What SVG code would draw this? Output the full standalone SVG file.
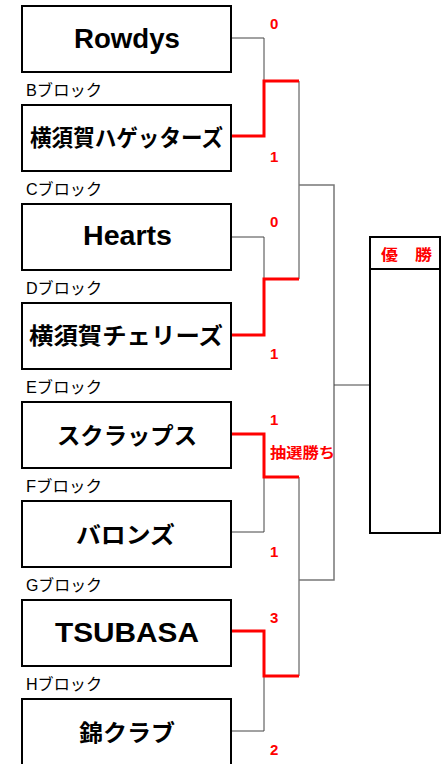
<svg xmlns="http://www.w3.org/2000/svg" width="447" height="764" viewBox="0 0 447 764">
<style>
.box{fill:#fff;stroke:#000;stroke-width:2}
.name{font-family:"Liberation Sans","Noto Sans CJK JP",sans-serif;font-weight:bold;text-anchor:middle;fill:#000}
.en{font-size:27px}
.jp{font-size:23px}
.blk{font-family:"Liberation Sans","Noto Sans CJK JP",sans-serif;font-size:16px;fill:#000}
.sc{font-family:"Liberation Sans","Noto Sans CJK JP",sans-serif;font-size:15px;font-weight:bold;fill:#f00}
.g{fill:none;stroke:#444;stroke-width:1}
.g2{fill:none;stroke:#777;stroke-width:1.5}
.r{fill:none;stroke:#f00;stroke-width:3}
</style>
<rect width="447" height="764" fill="#fff"/>
<g id="connectors">
<path class="g" d="M231,38H264V81"/>
<path class="g" d="M231,237H264V279"/>
<path class="g" d="M231,532H264V477"/>
<path class="g" d="M231,731H264V676"/>
<path class="g" d="M299,81V279"/>
<path class="g" d="M299,477V676"/>
<path class="g2" d="M299,185H334V580H299"/>
<path class="g" d="M334,385H370"/>
<path class="r" d="M231,136H264V81H299"/>
<path class="r" d="M231,335H264V279H299"/>
<path class="r" d="M231,434H264V477H299"/>
<path class="r" d="M231,631H264V676H299"/>
</g>
<g id="team-a"><rect class="box" x="22" y="6" width="209" height="66"/><text class="name en" x="127" y="48" textLength="106" lengthAdjust="spacingAndGlyphs">Rowdys</text></g>
<g id="team-b"><text class="blk" x="26" y="96" textLength="76" lengthAdjust="spacingAndGlyphs">Bブロック</text><rect class="box" x="22" y="105" width="209" height="66"/><text class="name jp" x="126.5" y="146" textLength="193" lengthAdjust="spacingAndGlyphs">横須賀ハゲッターズ</text></g>
<g id="team-c"><text class="blk" x="26" y="195" textLength="76" lengthAdjust="spacingAndGlyphs">Cブロック</text><rect class="box" x="22" y="204" width="209" height="66"/><text class="name en" x="127.5" y="245" textLength="89" lengthAdjust="spacingAndGlyphs">Hearts</text></g>
<g id="team-d"><text class="blk" x="26" y="294" textLength="76" lengthAdjust="spacingAndGlyphs">Dブロック</text><rect class="box" x="22" y="303" width="209" height="66"/><text class="name jp" x="126" y="344" textLength="194" lengthAdjust="spacingAndGlyphs">横須賀チェリーズ</text></g>
<g id="team-e"><text class="blk" x="26" y="393" textLength="76" lengthAdjust="spacingAndGlyphs">Eブロック</text><rect class="box" x="22" y="402" width="209" height="66"/><text class="name jp" x="127" y="444" textLength="140" lengthAdjust="spacingAndGlyphs">スクラップス</text></g>
<g id="team-f"><text class="blk" x="26" y="492" textLength="76" lengthAdjust="spacingAndGlyphs">Fブロック</text><rect class="box" x="22" y="501" width="209" height="66"/><text class="name jp" x="125.5" y="543" textLength="99" lengthAdjust="spacingAndGlyphs">バロンズ</text></g>
<g id="team-g"><text class="blk" x="26" y="591" textLength="76" lengthAdjust="spacingAndGlyphs">Gブロック</text><rect class="box" x="22" y="600" width="209" height="66"/><text class="name en" x="127" y="642" textLength="144" lengthAdjust="spacingAndGlyphs">TSUBASA</text></g>
<g id="team-h"><text class="blk" x="26" y="690" textLength="76" lengthAdjust="spacingAndGlyphs">Hブロック</text><rect class="box" x="22" y="699" width="209" height="66"/><text class="name jp" x="127" y="741" textLength="96" lengthAdjust="spacingAndGlyphs">錦クラブ</text></g>
<g id="scores">
<text class="sc" x="270" y="29">0</text>
<text class="sc" x="270" y="162">1</text>
<text class="sc" x="270" y="227">0</text>
<text class="sc" x="270" y="359">1</text>
<text class="sc" x="270" y="425">1</text>
<text class="sc" x="270" y="458" font-size="16" textLength="65" lengthAdjust="spacingAndGlyphs">抽選勝ち</text>
<text class="sc" x="270" y="557">1</text>
<text class="sc" x="270" y="623">3</text>
<text class="sc" x="270" y="755">2</text>
</g>
<g id="champion">
<rect class="box" x="370" y="237" width="70" height="296"/>
<line x1="370" y1="269" x2="440" y2="269" stroke="#000" stroke-width="2"/>
<text class="sc" x="381" y="260" font-size="17" textLength="51" lengthAdjust="spacingAndGlyphs">優　勝</text>
</g>
</svg>
